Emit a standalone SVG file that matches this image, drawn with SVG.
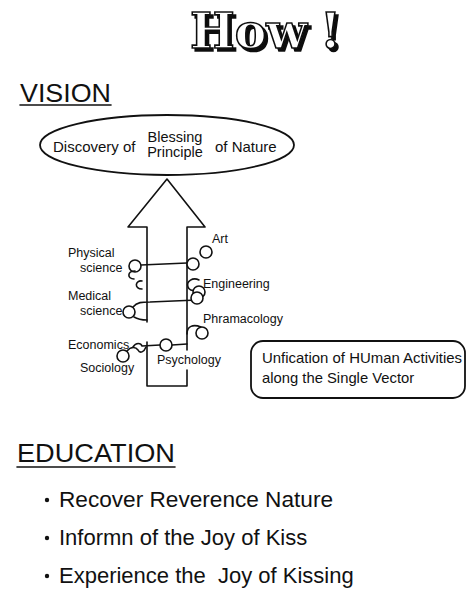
<svg xmlns="http://www.w3.org/2000/svg" width="468" height="591" viewBox="0 0 468 591">
  <style>
    .sans { font-family: "Liberation Sans", Arial, sans-serif; fill: #111; }
    .title { font-family: "DejaVu Serif", "Liberation Serif", serif; font-weight: bold; font-size: 48px; fill: #fff; stroke: #111; stroke-width: 1.6; }
    .head { font-size: 26.5px; }
    .lbl { font-size: 12.5px; }
    .big { font-size: 15px; }
    .bul { font-size: 22px; }
    .ln { fill: none; stroke: #111; stroke-width: 1.6; stroke-linecap: round; stroke-linejoin: round; }
    .ring { fill: #fff; stroke: #111; stroke-width: 1.6; }
  </style>
  <defs>
    <!-- offset drop shadow for the outlined title letters -->
    <filter id="dropShadow" x="-10%" y="-20%" width="130%" height="150%">
      <feOffset in="SourceAlpha" dx="2.5" dy="2.5" result="off"/>
      <feComponentTransfer in="off" result="shade">
        <feFuncA type="linear" slope="0.95"/>
      </feComponentTransfer>
      <feMerge>
        <feMergeNode in="shade"/>
        <feMergeNode in="SourceGraphic"/>
      </feMerge>
    </filter>
  </defs>
  <rect width="468" height="591" fill="#fff"/>

  <!-- title -->
  <g id="title" filter="url(#dropShadow)">
    <text class="title" x="190" y="48" textLength="117" lengthAdjust="spacingAndGlyphs">How</text>
    <text class="title" x="320" y="48">!</text>
  </g>

  <!-- section headings -->
  <g id="vision-heading">
    <text class="sans head" x="20" y="102" textLength="91" lengthAdjust="spacingAndGlyphs">VISION</text>
    <line class="ln" x1="20" y1="105" x2="111" y2="105" stroke-width="1.8"/>
  </g>
  <g id="education-heading">
    <text class="sans head" x="17" y="462" textLength="158" lengthAdjust="spacingAndGlyphs">EDUCATION</text>
    <line class="ln" x1="17" y1="467" x2="175" y2="467" stroke-width="1.8"/>
  </g>

  <!-- goal ellipse -->
  <g id="goal">
    <ellipse cx="167" cy="145" rx="127" ry="30" fill="#fff" stroke="#111" stroke-width="1.8"/>
    <text class="sans big" x="53" y="152">Discovery of</text>
    <text class="sans" font-size="14.5" x="175" y="142" text-anchor="middle">Blessing</text>
    <text class="sans" font-size="14.5" x="175" y="157" text-anchor="middle">Principle</text>
    <text class="sans big" x="215" y="152">of Nature</text>
  </g>

  <!-- the single vector -->
  <g id="vector">
    <path class="ln" d="M147,322 L147,227 L128,227 L167,179 L205,227 L187,227 L187,350"/>
    <path class="ln" d="M187,370 L187,386 L147,386 L147,342"/>
  </g>

  <!-- activity labels -->
  <g id="labels">
    <text class="sans lbl" x="68" y="257">Physical</text>
    <text class="sans lbl" x="80" y="272">science</text>
    <text class="sans lbl" x="68" y="300">Medical</text>
    <text class="sans lbl" x="80" y="315">science</text>
    <text class="sans lbl" x="68" y="349">Economics</text>
    <text class="sans lbl" x="80" y="372">Sociology</text>
    <text class="sans lbl" x="157" y="364">Psychology</text>
    <text class="sans lbl" x="212" y="243">Art</text>
    <text class="sans lbl" x="203" y="288">Engineering</text>
    <text class="sans lbl" x="203" y="323">Phramacology</text>
  </g>

  <!-- links between activities -->
  <g id="connectors">
    <!-- physical science to art -->
    <line class="ln" x1="141" y1="265" x2="187" y2="263"/>
    <circle class="ring" cx="135" cy="266" r="6"/>
    <path class="ln" d="M135,271 C127,271 127,279 134,279"/>
    <path class="ln" d="M142,281 C135,280 134,289 142,289"/>
    <circle class="ring" cx="206" cy="252" r="6"/>
    <circle class="ring" cx="193" cy="264" r="6"/>
    <!-- engineering -->
    <path class="ln" d="M199,280 C193,277 186,281 188,287 C189,290 192,291 195,290"/>
    <!-- medical science to engineering -->
    <path class="ln" d="M133,307 C137,302 142,302 150,302 L197,300"/>
    <path class="ln" d="M134,317 C139,320 143,320 147,320"/>
    <circle class="ring" cx="129" cy="312" r="6"/>
    <circle class="ring" cx="199" cy="292" r="6"/>
    <circle class="ring" cx="197" cy="298" r="6" fill="none"/>
    <!-- pharmacology -->
    <path class="ln" d="M187,334 C187,326 193,324 201,327"/>
    <circle class="ring" cx="202" cy="333" r="6"/>
    <!-- economics, sociology, psychology -->
    <path class="ln" d="M133,347 C136,342 141,343 142,346 L160,345"/>
    <line class="ln" x1="172" y1="345" x2="187" y2="344"/>
    <circle class="ring" cx="166" cy="345" r="6"/>
    <path class="ln" d="M127,351 C131,346 136,347 138,350 C140,354 144,352 146,347"/>
    <circle class="ring" cx="123" cy="356" r="6"/>
  </g>

  <!-- note box -->
  <g id="note">
    <rect x="251" y="341" width="214" height="57" rx="12" fill="#fff" stroke="#111" stroke-width="1.8"/>
    <text class="sans" font-size="14.8" x="262" y="363" textLength="200" lengthAdjust="spacingAndGlyphs">Unfication of HUman Activities</text>
    <text class="sans" font-size="14.8" x="262" y="383">along the Single Vector</text>
  </g>

  <!-- education points -->
  <g id="education-list">
    <circle cx="47" cy="500" r="2.2" fill="#111"/>
    <text class="sans bul" x="59" y="507" textLength="274" lengthAdjust="spacingAndGlyphs">Recover Reverence Nature</text>
    <circle cx="47" cy="538" r="2.2" fill="#111"/>
    <text class="sans bul" x="59" y="545">Informn of the Joy of Kiss</text>
    <circle cx="47" cy="576" r="2.2" fill="#111"/>
    <text class="sans bul" x="59" y="583">Experience the&#160; Joy of Kissing</text>
  </g>
</svg>
